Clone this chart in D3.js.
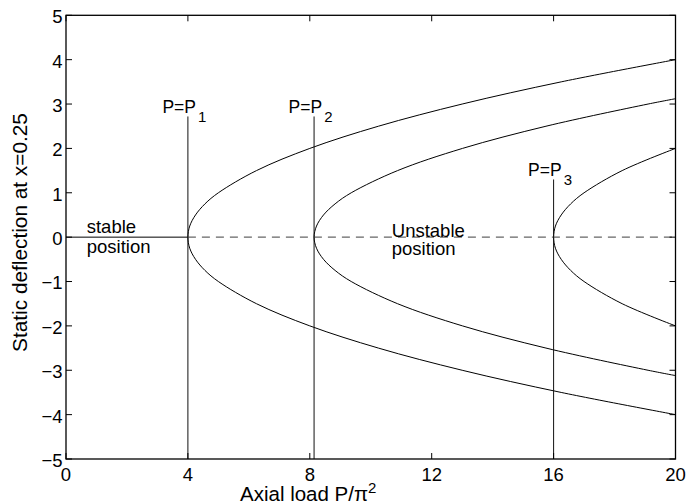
<!DOCTYPE html>
<html>
<head>
<meta charset="utf-8">
<script src="https://cdn.jsdelivr.net/npm/d3@7"></script>
<style>
  html, body { margin: 0; padding: 0; background: #fff; }
  svg { display: block; }
  text { font-family: "Liberation Sans", Arial, Helvetica, sans-serif; fill: #000; }
</style>
</head>
<body>
<svg id="chart" width="688" height="504"></svg>
<script>
// Axis ticks
const xTicks = [0, 4, 8, 12, 16, 20];
const yTicks = [-5, -4, -3, -2, -1, 0, 1, 2, 3, 4, 5];

// Critical loads P/pi^2 where the trivial solution bifurcates
const criticalLoads = [4, 8.14, 16];
const markerTops = [2.72, 2.72, 1.3];
const markerNames = ["1", "2", "3"];

// Post-buckling branches (upper half; the lower half mirrors it about w = 0)
const branch1W = [0, 0.25, 0.5, 0.75, 1, 1.5, 2, 2.5, 3, 3.5, 4];
const branch1P = [4, 4.06, 4.25, 4.56, 5, 6.25, 8, 10.25, 13, 16.25, 20];

const branch2W = [0, 0.25, 0.5, 0.75, 1, 1.5, 2, 2.5, 3, 3.12];
const branch2P = [8.14, 8.22, 8.45, 8.83, 9.36, 10.88, 13.01, 15.75, 19.1, 20];

const branch3W = [0, 0.25, 0.5, 0.75, 1, 1.5, 2];
const branch3P = [16, 16.06, 16.25, 16.56, 17, 18.25, 20];

const branches = [
  { w: branch1W, p: branch1P },
  { w: branch2W, p: branch2P },
  { w: branch3W, p: branch3P }
];

// Trivial (straight) equilibrium: stable up to P1, unstable beyond
const stableRange = [0, 4];
const unstableRange = [4, 20];

const svg = d3.select("#chart");
const L = 66, R = 675.5, T = 15.3, B = 459;

const x = d3.scaleLinear().domain([0, 20]).range([L, R]);
const y = d3.scaleLinear().domain([-5, 5]).range([B, T]);

const fontSize = 18.5;

// Branch curves
const line = d3.line()
  .x(d => x(d[0]))
  .y(d => y(d[1]))
  .curve(d3.curveCatmullRom.alpha(0.5));

branches.forEach(b => {
  const pts = [];
  for (let i = b.w.length - 1; i >= 1; i--) pts.push([b.p[i], -b.w[i]]);
  for (let i = 0; i < b.w.length; i++) pts.push([b.p[i], b.w[i]]);
  svg.append("path")
    .attr("d", line(pts))
    .attr("fill", "none")
    .attr("stroke", "#000")
    .attr("stroke-width", 1);
});

// Trivial solution
svg.append("line")
  .attr("x1", x(stableRange[0])).attr("x2", x(stableRange[1]))
  .attr("y1", y(0)).attr("y2", y(0))
  .attr("stroke", "#000").attr("stroke-width", 1);
svg.append("line")
  .attr("x1", x(unstableRange[0])).attr("x2", x(unstableRange[1]))
  .attr("y1", y(0)).attr("y2", y(0))
  .attr("stroke", "#666").attr("stroke-width", 1.1)
  .attr("stroke-dasharray", "8,6");

// Critical load markers
criticalLoads.forEach((pc, i) => {
  svg.append("line")
    .attr("x1", x(pc)).attr("x2", x(pc))
    .attr("y1", y(-5)).attr("y2", y(markerTops[i]))
    .attr("stroke", "#111").attr("stroke-width", 1);
  const t = svg.append("text")
    .attr("x", x(pc) - 25.5)
    .attr("y", y(markerTops[i]) - 3.5)
    .attr("font-size", 17.5);
  t.append("tspan").text("P=P");
  t.append("tspan")
    .attr("dx", 2)
    .attr("dy", 9.5)
    .attr("font-size", 15)
    .text(markerNames[i]);
});

// Region labels
const stableLines = ["stable", "position"];
const unstableLines = ["Unstable", "position"];
stableLines.forEach((s, i) => {
  svg.append("text")
    .attr("x", x(0.68)).attr("y", 232.5 + i * 20)
    .attr("font-size", fontSize).text(s);
});
unstableLines.forEach((s, i) => {
  svg.append("text")
    .attr("x", x(10.69)).attr("y", 236.5 + i * 18.5)
    .attr("font-size", fontSize).text(s);
});

// Frame
svg.append("rect")
  .attr("x", L).attr("y", T)
  .attr("width", R - L).attr("height", B - T)
  .attr("fill", "none").attr("stroke", "#000").attr("stroke-width", 1.3);

// Inward ticks on all four sides
const tk = 6;
xTicks.forEach(v => {
  svg.append("line").attr("x1", x(v)).attr("x2", x(v))
    .attr("y1", B).attr("y2", B - tk).attr("stroke", "#000");
  svg.append("line").attr("x1", x(v)).attr("x2", x(v))
    .attr("y1", T).attr("y2", T + tk).attr("stroke", "#000");
  svg.append("text")
    .attr("x", x(v)).attr("y", B + 21.5)
    .attr("text-anchor", "middle")
    .attr("font-size", fontSize)
    .text(v);
});
yTicks.forEach(v => {
  svg.append("line").attr("x1", L).attr("x2", L + tk)
    .attr("y1", y(v)).attr("y2", y(v)).attr("stroke", "#000");
  svg.append("line").attr("x1", R).attr("x2", R - tk)
    .attr("y1", y(v)).attr("y2", y(v)).attr("stroke", "#000");
  svg.append("text")
    .attr("x", 62.5).attr("y", y(v) + 1.5)
    .attr("dy", "0.35em")
    .attr("text-anchor", "end")
    .attr("font-size", fontSize)
    .text(v < 0 ? "\u2212" + Math.abs(v) : v);
});

// Axis titles
const xt = svg.append("text")
  .attr("x", 240).attr("y", 501)
  .attr("font-size", 20.5);
xt.append("tspan").text("Axial load P/\u03c0");
xt.append("tspan").attr("dy", -8.5).attr("font-size", 15).text("2");

svg.append("text")
  .attr("transform", "translate(27," + 232.5 + ") rotate(-90)")
  .attr("text-anchor", "middle")
  .attr("font-size", 20.8)
  .text("Static deflection at x=0.25");
</script>
</body>
</html>
